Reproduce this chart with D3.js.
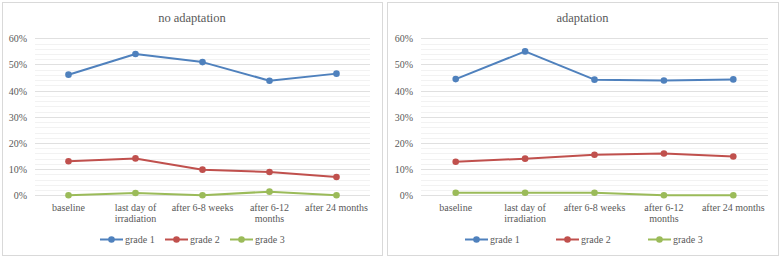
<!DOCTYPE html>
<html><head><meta charset="utf-8">
<script src="https://cdn.jsdelivr.net/npm/d3@7"></script>
<style>body{margin:0;background:#fff;} svg{display:block;}</style>
</head><body>
<svg id="c" width="783" height="259"></svg>
<script>
const categories = ["baseline", "last day of|irradiation", "after 6-8 weeks", "after 6-12|months", "after 24 months"];
const seriesNames = ["grade 1", "grade 2", "grade 3"];
const seriesColors = ["#4f81bd", "#c0504d", "#9bbb59"];
const yTicks = [0, 0.1, 0.2, 0.3, 0.4, 0.5, 0.6];
const titles = ["no adaptation", "adaptation"];
const noAdaptG1 = [0.461, 0.540, 0.509, 0.438, 0.465];
const noAdaptG2 = [0.130, 0.141, 0.098, 0.089, 0.070];
const noAdaptG3 = [0.000, 0.009, 0.000, 0.014, 0.000];
const adaptG1 = [0.444, 0.550, 0.442, 0.439, 0.443];
const adaptG2 = [0.128, 0.140, 0.155, 0.160, 0.148];
const adaptG3 = [0.010, 0.010, 0.010, 0.000, 0.000];

(function () {
const panels = [
  {title: titles[0], series: [noAdaptG1, noAdaptG2, noAdaptG3], box: [2, 2, 380, 253], plot: [35, 370], legendX: [100, 165, 230]},
  {title: titles[1], series: [adaptG1, adaptG2, adaptG3], box: [387, 2, 391, 253], plot: [421, 768], legendX: [465, 556, 648]}
];

const svg = d3.select("#c");
const plotTop = 38.3, plotBottom = 195.3;
const y = d3.scaleLinear().domain([0, 0.6]).range([plotBottom, plotTop]);
const txt = "#595959";
const font = "Liberation Serif";

panels.forEach(p => {
  const g = svg.append("g");
  g.append("rect").attr("x", p.box[0] + 0.5).attr("y", p.box[1] + 0.5).attr("width", p.box[2]).attr("height", p.box[3])
    .attr("fill", "#fff").attr("stroke", "#d9d9d9").attr("stroke-width", 1);
  g.append("text").attr("x", p.box[0] + p.box[2] / 2).attr("y", 22).attr("text-anchor", "middle")
    .style("font-family", font).attr("font-size", 12.5).attr("fill", txt).text(p.title);

  const x = d3.scaleBand().domain(d3.range(categories.length)).range(p.plot);
  const minor = d3.range(0, 0.6001, 0.02).filter(v => Math.abs(Math.round(v * 10) - v * 10) > 0.01);
  g.selectAll(".minor").data(minor).enter().append("line")
    .attr("x1", p.plot[0]).attr("x2", p.plot[1])
    .attr("y1", d => Math.round(y(d)) + 0.5).attr("y2", d => Math.round(y(d)) + 0.5)
    .attr("stroke", "#f2f2f2").attr("stroke-width", 1);
  const axis = d3.axisLeft(y).tickValues(yTicks).tickFormat(d3.format(".0%")).tickSize(-(p.plot[1] - p.plot[0])).tickPadding(8);
  const ag = g.append("g").attr("transform", `translate(${p.plot[0]},0)`).call(axis);
  ag.select(".domain").remove();
  ag.selectAll(".tick line").attr("stroke", "#e0e0e0");
  ag.selectAll(".tick").attr("transform", d => `translate(0,${Math.round(y(d)) + 0.5})`);
  ag.selectAll(".tick text").style("font-family", font).attr("font-size", 10).attr("fill", txt);

  categories.forEach((c, i) => {
    const lines = c.split("|");
    const t = g.append("text").attr("x", x(i) + x.bandwidth() / 2).attr("y", 211)
      .attr("text-anchor", "middle").style("font-family", font).attr("font-size", 10).attr("fill", txt);
    lines.forEach((l, j) => t.append("tspan").attr("x", x(i) + x.bandwidth() / 2).attr("dy", j ? 11 : 0).text(l));
  });

  const line = d3.line().x((d, i) => x(i) + x.bandwidth() / 2).y(d => y(d));
  p.series.slice().reverse().forEach((s, ri) => {
    const k = p.series.length - 1 - ri;
    g.append("path").datum(s).attr("d", line).attr("fill", "none").attr("stroke", seriesColors[k])
      .attr("stroke-width", 2).attr("stroke-linejoin", "round");
    g.selectAll(null).data(s).enter().append("circle")
      .attr("cx", (d, i) => x(i) + x.bandwidth() / 2).attr("cy", d => y(d)).attr("r", 3.3)
      .attr("fill", seriesColors[k]);
  });

  seriesNames.forEach((n, k) => {
    const lx = p.legendX[k], ly = 239.5;
    g.append("line").attr("x1", lx).attr("x2", lx + 23).attr("y1", ly).attr("y2", ly)
      .attr("stroke", seriesColors[k]).attr("stroke-width", 2);
    g.append("circle").attr("cx", lx + 11.5).attr("cy", ly).attr("r", 3.3).attr("fill", seriesColors[k]);
    g.append("text").attr("x", lx + 25).attr("y", ly + 3.5).style("font-family", font).attr("font-size", 10)
      .attr("fill", txt).text(n);
  });
});
})();
</script>
</body></html>
